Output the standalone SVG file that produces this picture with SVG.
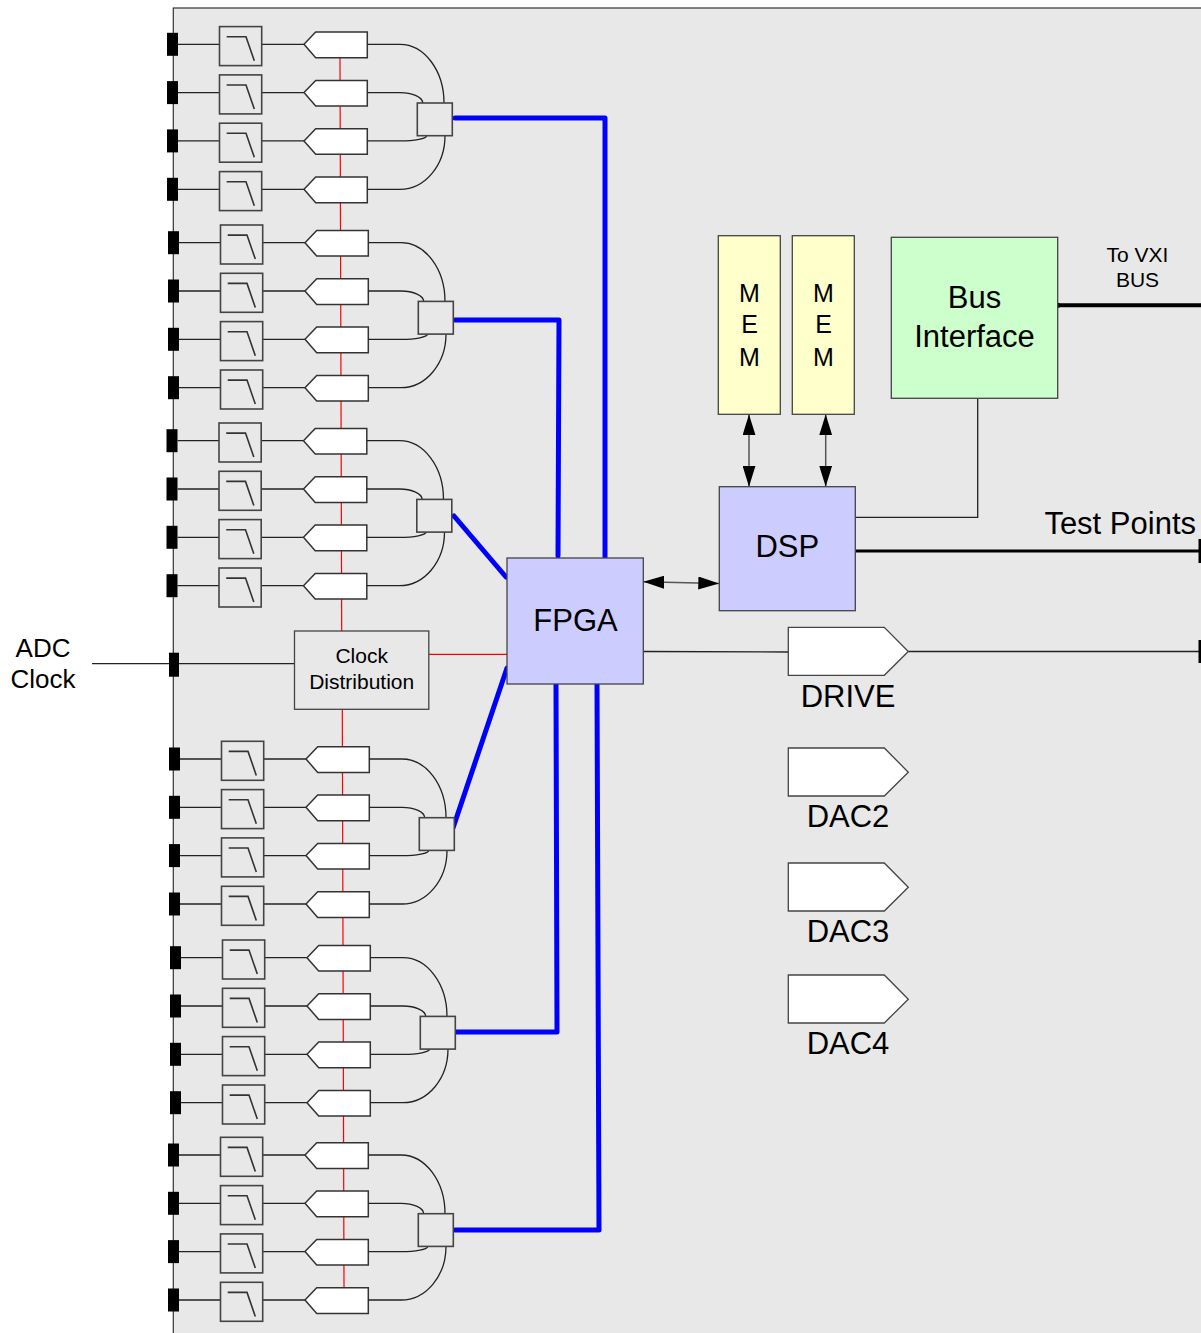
<svg xmlns="http://www.w3.org/2000/svg" xmlns:xlink="http://www.w3.org/1999/xlink" width="1201" height="1333" viewBox="0 0 1201 1333">
<style>
text{font-family:"Liberation Sans",Arial,sans-serif;fill:#000;text-anchor:middle}
.conn{fill:#000}
.wire{fill:none;stroke:#222;stroke-width:1.3}
.filt{fill:#e8e8e8;stroke:#444;stroke-width:1.6}
.glyph{fill:none;stroke:#333;stroke-width:1.6}
.adc{fill:#fff;stroke:#333;stroke-width:1.5}
.mux{fill:#e8e8e8;stroke:#444;stroke-width:1.6}
.clk{fill:none;stroke:#ff0000;stroke-width:1.2}
.bus{fill:none;stroke:#0000ff;stroke-width:5;stroke-linecap:round;stroke-linejoin:round}
.arr{fill:none;stroke:#555;stroke-width:1.5;marker-start:url(#ah);marker-end:url(#ah)}
.box{stroke:#444;stroke-width:1.3}
.dac{fill:#fff;stroke:#444;stroke-width:1.3}
.thick{fill:none;stroke:#000}
</style>
<defs>
<marker id="ah" viewBox="0 0 21 13" refX="21" refY="6.5" markerWidth="21" markerHeight="13" markerUnits="userSpaceOnUse" orient="auto-start-reverse">
<path d="M0,0L21,6.5L0,13Z" fill="#000"/>
</marker>
<g id="row">
<rect class="conn" x="167" y="-11.5" width="11" height="23"/>
<path class="wire" d="M178,0H219.5M261.7,0H304"/>
<rect class="filt" x="219.5" y="-17.7" width="42.2" height="39"/>
<path class="glyph" d="M226.7,-7.6H246L254.3,16.4"/>
<path class="adc" d="M304,0L315.7,-12.2H367.3V13.4H315.7Z"/>
</g>
<g id="bankwires">
<path class="wire" d="M367.3,0H400A44 58.7 0 0 1 444,58.7M367.3,48.3H400A22.7 10.4 0 0 1 422.7,58.7M367.3,96.6H400A26.7 5.2 0 0 0 426.7,91.4M367.3,145H400A45 53.6 0 0 0 445,91.4"/>
</g>
<path id="dacshape" class="dac" d="M788.3,627.3H884.3L908.3,651.5L884.3,675.3H788.3Z"/>
</defs>

<g id="panel">
<rect x="173.3" y="8" width="1100" height="1400" fill="#e8e8e8" stroke="#333" stroke-width="1.2"/>
</g>

<g id="connectors">
<path class="clk" d="M340,58L341.7,631M342.3,710L344,1287M428.7,654.3H507"/>
<path class="wire" d="M92,663.7H169M179,663.7H294.5"/>
<path class="bus" d="M455,118H605V557"/>
<path class="bus" d="M455,320H559L558,556"/>
<path class="bus" d="M454,516L506,577"/>
<path class="bus" d="M453,828L507,668"/>
<path class="bus" d="M455,1032H557L556,684"/>
<path class="bus" d="M455,1230H599L597,684"/>
<path class="arr" d="M749,414.3V486.7"/>
<path class="arr" d="M825.7,414.3V486.7"/>
<path class="arr" d="M643.3,581.7L719.3,583.5"/>
<path class="wire" d="M977.7,398.3V517.3H855.3"/>
<path class="thick" stroke-width="4" d="M1057.7,305.3H1201"/>
<circle cx="1057.7" cy="305.3" r="2.6" fill="#000"/>
<path class="thick" stroke-width="3" d="M855.3,551H1199"/>
<rect x="1198.5" y="539" width="3" height="24" fill="#000"/>
<path class="wire" d="M643.3,651.5L788.3,652M908.3,651.5H1199"/>
<rect x="1198.5" y="640" width="3" height="23" fill="#000"/>
</g>

<g id="bank1" transform="translate(0,44.3)">
<use xlink:href="#row"/><use xlink:href="#row" y="48.3"/><use xlink:href="#row" y="96.6"/><use xlink:href="#row" y="145"/>
<use xlink:href="#bankwires"/>
<rect class="mux" x="417.3" y="58.7" width="35" height="32.7"/>
</g>
<g id="bank2" transform="translate(1,242.7)">
<use xlink:href="#row"/><use xlink:href="#row" y="48.3"/><use xlink:href="#row" y="96.6"/><use xlink:href="#row" y="145"/>
<use xlink:href="#bankwires"/>
<rect class="mux" x="417.3" y="58.7" width="35" height="32.7"/>
</g>
<g id="bank3" transform="translate(-0.5,440.7)">
<use xlink:href="#row"/><use xlink:href="#row" y="48.3"/><use xlink:href="#row" y="96.6"/><use xlink:href="#row" y="145"/>
<use xlink:href="#bankwires"/>
<rect class="mux" x="417.3" y="58.7" width="35" height="32.7"/>
</g>
<g id="bank4" transform="translate(2,759)">
<use xlink:href="#row"/><use xlink:href="#row" y="48.3"/><use xlink:href="#row" y="96.6"/><use xlink:href="#row" y="145"/>
<use xlink:href="#bankwires"/>
<rect class="mux" x="417.3" y="58.7" width="35" height="32.7"/>
</g>
<g id="bank5" transform="translate(3,957.7)">
<use xlink:href="#row"/><use xlink:href="#row" y="48.3"/><use xlink:href="#row" y="96.6"/><use xlink:href="#row" y="145"/>
<use xlink:href="#bankwires"/>
<rect class="mux" x="417.3" y="58.7" width="35" height="32.7"/>
</g>
<g id="bank6" transform="translate(1,1155)">
<use xlink:href="#row"/><use xlink:href="#row" y="48.3"/><use xlink:href="#row" y="96.6"/><use xlink:href="#row" y="145"/>
<use xlink:href="#bankwires"/>
<rect class="mux" x="417.3" y="58.7" width="35" height="32.7"/>
</g>

<g id="adc-clock">
<rect class="conn" x="169" y="652.7" width="10" height="24"/>
<text x="43" y="656.7" font-size="26">ADC</text>
<text x="43" y="687.7" font-size="26">Clock</text>
</g>

<g id="clock-distribution">
<rect class="box" x="294.5" y="631" width="134.3" height="78.3" fill="#e8e8e8"/>
<text x="361.7" y="663.3" font-size="21">Clock</text>
<text x="361.7" y="689.3" font-size="21">Distribution</text>
</g>

<g id="fpga">
<rect class="box" x="507" y="558" width="136.3" height="126" fill="#ccccff"/>
<text x="575.5" y="631" font-size="31">FPGA</text>
</g>

<g id="dsp">
<rect class="box" x="719.3" y="486.7" width="136" height="124" fill="#ccccff"/>
<text x="787.3" y="556.7" font-size="31">DSP</text>
</g>

<g id="mem1">
<rect class="box" x="718.3" y="235.7" width="62" height="178.6" fill="#ffffcc"/>
<text x="749.5" y="302" font-size="25">M</text>
<text x="749.5" y="333.3" font-size="25">E</text>
<text x="749.5" y="365.7" font-size="25">M</text>
</g>

<g id="mem2">
<rect class="box" x="792.3" y="235.7" width="62" height="178.6" fill="#ffffcc"/>
<text x="823.5" y="302" font-size="25">M</text>
<text x="823.5" y="333.3" font-size="25">E</text>
<text x="823.5" y="365.7" font-size="25">M</text>
</g>

<g id="bus-interface">
<rect class="box" x="891.3" y="237.3" width="166.4" height="161" fill="#ccffcc"/>
<text x="974.5" y="307.7" font-size="31">Bus</text>
<text x="974.5" y="346.7" font-size="31">Interface</text>
</g>

<g id="vxi-label">
<text x="1137.5" y="262.3" font-size="21">To VXI</text>
<text x="1137.5" y="287.3" font-size="21">BUS</text>
</g>

<g id="test-points">
<text x="1196" y="534.3" font-size="31" style="text-anchor:end">Test Points</text>
</g>

<g id="drive">
<use xlink:href="#dacshape"/>
<text x="848" y="706.7" font-size="31">DRIVE</text>
</g>
<g id="dac2">
<use xlink:href="#dacshape" y="120.7"/>
<text x="848" y="827.4" font-size="31">DAC2</text>
</g>
<g id="dac3">
<use xlink:href="#dacshape" y="235.7"/>
<text x="848" y="942.4" font-size="31">DAC3</text>
</g>
<g id="dac4">
<use xlink:href="#dacshape" y="347.7"/>
<text x="848" y="1054.4" font-size="31">DAC4</text>
</g>
</svg>
